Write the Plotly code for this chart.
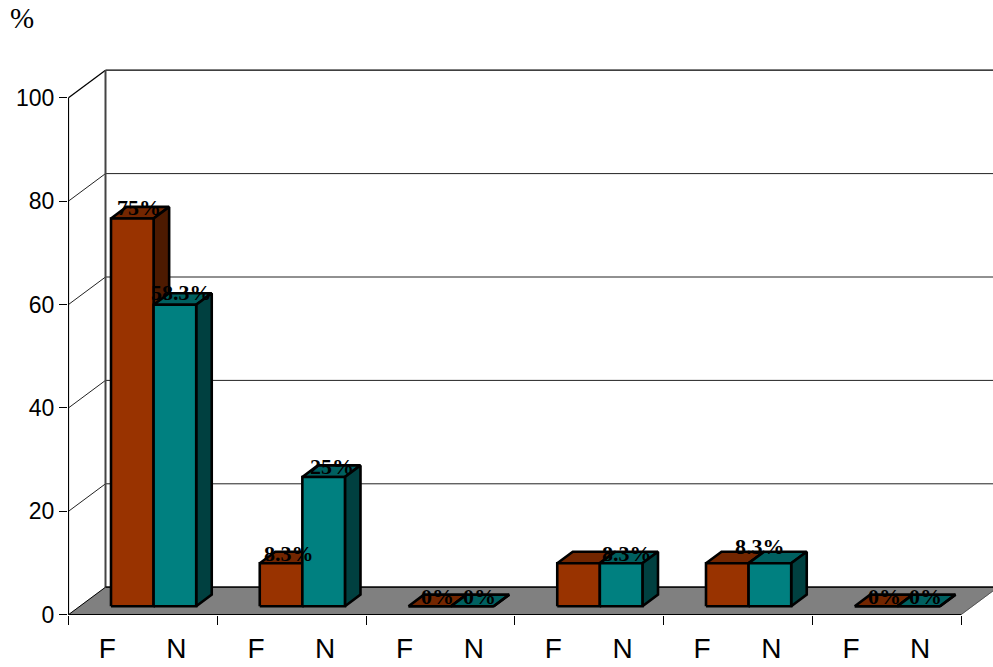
import plotly.graph_objects as go

# Chart data
groups = list(range(6))
tick_labels = ["F", "N"]
female = [75, 8.3, 0, 8.3, 8.3, 0]
nonfemale = [58.3, 25, 0, 8.3, 8.3, 0]
female_labels = ["75%", "8.3%", "0%", "", "8.3%", "0%"]
nonfemale_labels = ["58.3%", "25%", "0%", "8.3%", "", "0%"]
y_ticks = [0, 20, 40, 60, 80, 100]

# Projection of the fake 3D box, in pixels per axis unit
PX_X, PX_Y = 148.75, 5.17
DEPTH_X, DEPTH_Y = 37 / PX_X, 27.5 / PX_Y
WIDTH, HEIGHT = 993, 667
M_L, M_B = 68, 52
BAR_W = 42.6 / PX_X
D_FRONT, D_BACK = 0.31, 0.73
BAR_START = 42.5 / PX_X - D_FRONT * DEPTH_X

F_COL = ("#993300", "#732600", "#4d1a00")
N_COL = ("#008080", "#006060", "#004040")


def proj(x, v, d=0.0):
    return x + d * DEPTH_X, v + d * DEPTH_Y


fig = go.Figure()


def poly(points, fill, line_color="#000000", line_width=2.6):
    xs = [p[0] for p in points] + [points[0][0]]
    ys = [p[1] for p in points] + [points[0][1]]
    fig.add_trace(go.Scatter(
        x=xs, y=ys, mode="lines", fill="toself", fillcolor=fill,
        line=dict(color=line_color, width=line_width, shape="linear"),
        hoverinfo="skip", showlegend=False))


def seg(p, q, color="#222222", width=1):
    fig.add_trace(go.Scatter(
        x=[p[0], q[0]], y=[p[1], q[1]], mode="lines",
        line=dict(color=color, width=width),
        hoverinfo="skip", showlegend=False))


def bar3d(x0, value, colors):
    x1 = x0 + BAR_W
    poly([proj(x0, value, D_FRONT), proj(x1, value, D_FRONT),
          proj(x1, value, D_BACK), proj(x0, value, D_BACK)], colors[1])
    poly([proj(x1, 0, D_FRONT), proj(x1, 0, D_BACK),
          proj(x1, value, D_BACK), proj(x1, value, D_FRONT)], colors[2])
    poly([proj(x0, 0, D_FRONT), proj(x1, 0, D_FRONT),
          proj(x1, value, D_FRONT), proj(x0, value, D_FRONT)], colors[0])


# Walls and gridlines
far = groups[-1] + 1.2
for v in y_ticks[1:]:
    seg(proj(0, v), proj(0, v, 1), "#000000" if v == 100 else "#222222",
        1.3 if v == 100 else 1)
    seg(proj(0, v, 1), proj(far, v, 1), "#000000" if v == 100 else "#222222",
        1.3 if v == 100 else 1)
seg(proj(0, 0, 1), proj(0, 100, 1), "#444444", 2)

# Floor
n = len(groups)
poly([proj(0, 0), proj(n, 0), proj(n, 0, 1), proj(0, 0, 1)], "#808080",
     "#808080", 0.5)
seg(proj(0, 0, 1), proj(far, 0, 1), "#111111", 1.8)
seg(proj(0, 0), proj(0, 0, 1), "#000000", 1)
seg(proj(n, 0), proj(n, 0, 1), "#555555", 1)

# Front axis lines
seg((0, 0), (n, 0), "#000000", 1.2)
seg((0, 0), (0, 100), "#000000", 1.2)

# Bars, drawn left to right so each one covers the side of its neighbour
for g in groups:
    bar3d(g + BAR_START, female[g], F_COL)
    bar3d(g + BAR_START + BAR_W, nonfemale[g], N_COL)

# Value labels with their pixel offsets from the front top of the bar
f_shift = [(7, 11), (8, 10), (7.5, 10), (0, 0), (33, 17), (8, 10)]
n_shift = [(7, 12), (8, 10), (7, 10), (6, 10), (0, 0), (7, 10)]
lift = D_FRONT * DEPTH_Y
label_font = dict(family="Liberation Serif", size=22, color="#000000")
for g in groups:
    for values, labels, shifts, start in (
        (female, female_labels, f_shift, BAR_START),
        (nonfemale, nonfemale_labels, n_shift, BAR_START + BAR_W),
    ):
        if labels[g]:
            fig.add_annotation(
                x=g + start + BAR_W / 2 + D_FRONT * DEPTH_X,
                y=values[g] + lift,
                text=f"<b>{labels[g]}</b>", showarrow=False, font=label_font,
                xanchor="center", yanchor="middle",
                xshift=shifts[g][0], yshift=shifts[g][1])

plot_w = WIDTH - M_L
plot_h = HEIGHT - M_B

fig.add_annotation(
    xref="paper", yref="paper", x=(22 - M_L) / plot_w, y=(plot_h - 18) / plot_h,
    text="%", showarrow=False, xanchor="center", yanchor="middle",
    font=dict(family="Liberation Serif", size=29, color="#000000"))

x_ticks = [g + off for g in groups for off in (0.26, 0.725)]
x_text = tick_labels * len(groups)
x_start = -0.5 / PX_X
y_start = -0.3 / PX_Y

fig.update_layout(
    width=WIDTH, height=HEIGHT, showlegend=False,
    margin=dict(l=M_L, r=0, t=0, b=M_B, pad=0),
    paper_bgcolor="#ffffff", plot_bgcolor="#ffffff",
    xaxis=dict(
        range=[x_start, x_start + plot_w / PX_X], tickmode="array",
        tickvals=x_ticks, ticktext=x_text, ticks="outside", ticklen=0,
        tickwidth=0, ticklabelstandoff=8, showgrid=False, zeroline=False,
        showline=False, automargin=False,
        tickfont=dict(family="Liberation Sans", size=28, color="#000000"),
        minor=dict(tickmode="array", tickvals=list(range(n + 1)), ticks="outside",
                   ticklen=9, tickwidth=1.2, tickcolor="#000000", showgrid=False),
    ),
    yaxis=dict(
        range=[y_start, y_start + plot_h / PX_Y], tickmode="array",
        tickvals=y_ticks, ticks="outside", ticklen=8, tickwidth=1.2,
        tickcolor="#000000", showgrid=False, zeroline=False, showline=False,
        automargin=False,
        tickfont=dict(family="Liberation Sans", size=23, color="#000000"),
    ),
)

fig.write_html("out.html", config=dict(displayModeBar=False))
